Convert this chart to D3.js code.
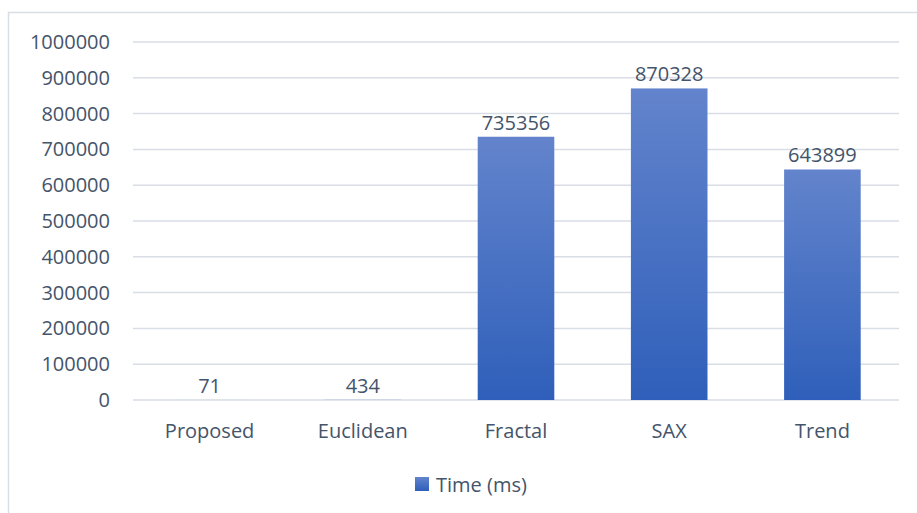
<!DOCTYPE html>
<html>
<head>
<meta charset="utf-8">
<script src="https://cdn.jsdelivr.net/npm/d3@7"></script>
<style>
  body { margin: 0; background: #fff; }
  text { font-family: "Open Sans", "Noto Sans", sans-serif; fill: #44546A; }
</style>
</head>
<body>
<div id="chart"></div>
<script>
// chart data
const methods = ["Proposed", "Euclidean", "Fractal", "SAX", "Trend"];
const times = [71, 434, 735356, 870328, 643899];
const yTicks = [0, 100000, 200000, 300000, 400000, 500000, 600000, 700000, 800000, 900000, 1000000];
const seriesName = "Time (ms)";

const W = 917, H = 513;
const margin = { top: 42, right: 18, bottom: 113, left: 133 };
const innerW = W - margin.left - margin.right;
const innerH = H - margin.top - margin.bottom;

const svg = d3.select("#chart").append("svg")
    .attr("width", W)
    .attr("height", H);

// gradient fill like the original
const grad = svg.append("defs").append("linearGradient")
    .attr("id", "barGrad")
    .attr("x1", 0).attr("y1", 0).attr("x2", 0).attr("y2", 1);
grad.append("stop").attr("offset", "0%").attr("stop-color", "#6384CC");
grad.append("stop").attr("offset", "100%").attr("stop-color", "#2F5FBA");

// chart area border
svg.append("rect")
    .attr("x", 8.5).attr("y", 12.5)
    .attr("width", W + 10).attr("height", H + 10)
    .attr("fill", "none")
    .attr("stroke", "#D9DEE6")
    .attr("stroke-width", 1.5);

const g = svg.append("g")
    .attr("transform", `translate(${margin.left},${margin.top})`);

const x = d3.scaleBand()
    .domain(methods)
    .range([0, innerW])
    .paddingInner(0.5)
    .paddingOuter(0.25);

const y = d3.scaleLinear()
    .domain([0, 1000000])
    .range([innerH, 0]);

// gridlines
g.selectAll(".grid")
    .data(yTicks)
    .join("line")
    .attr("class", "grid")
    .attr("x1", 0).attr("x2", innerW)
    .attr("y1", d => y(d)).attr("y2", d => y(d))
    .attr("stroke", "#D9DEE6")
    .attr("stroke-width", 1.5);

// y axis labels
const yAxis = g.append("g")
    .call(d3.axisLeft(y).tickValues(yTicks).tickSize(0).tickPadding(23).tickFormat(d => d));
yAxis.select(".domain").remove();
yAxis.selectAll("text")
    .style("font-size", "20px")
    .attr("fill", "#44546A");

// x axis labels
const xAxis = g.append("g")
    .attr("transform", `translate(0,${innerH})`)
    .call(d3.axisBottom(x).tickSize(0).tickPadding(24));
xAxis.select(".domain").remove();
xAxis.selectAll("text")
    .style("font-size", "20px")
    .attr("fill", "#44546A");

// bars
g.selectAll(".bar")
    .data(times)
    .join("rect")
    .attr("class", "bar")
    .attr("x", (d, i) => x(methods[i]))
    .attr("y", d => y(d))
    .attr("width", x.bandwidth())
    .attr("height", d => innerH - y(d))
    .attr("fill", "url(#barGrad)");

// value labels
g.selectAll(".val")
    .data(times)
    .join("text")
    .attr("class", "val")
    .attr("x", (d, i) => x(methods[i]) + x.bandwidth() / 2)
    .attr("y", d => y(d) - 7)
    .attr("text-anchor", "middle")
    .style("font-size", "20px")
    .text(d => d);

// legend
const leg = svg.append("g").attr("transform", "translate(415,477)");
leg.append("rect")
    .attr("width", 14).attr("height", 14)
    .attr("fill", "url(#barGrad)");
leg.append("text")
    .attr("x", 21).attr("y", 15)
    .style("font-size", "20px")
    .text(seriesName);
</script>
</body>
</html>
